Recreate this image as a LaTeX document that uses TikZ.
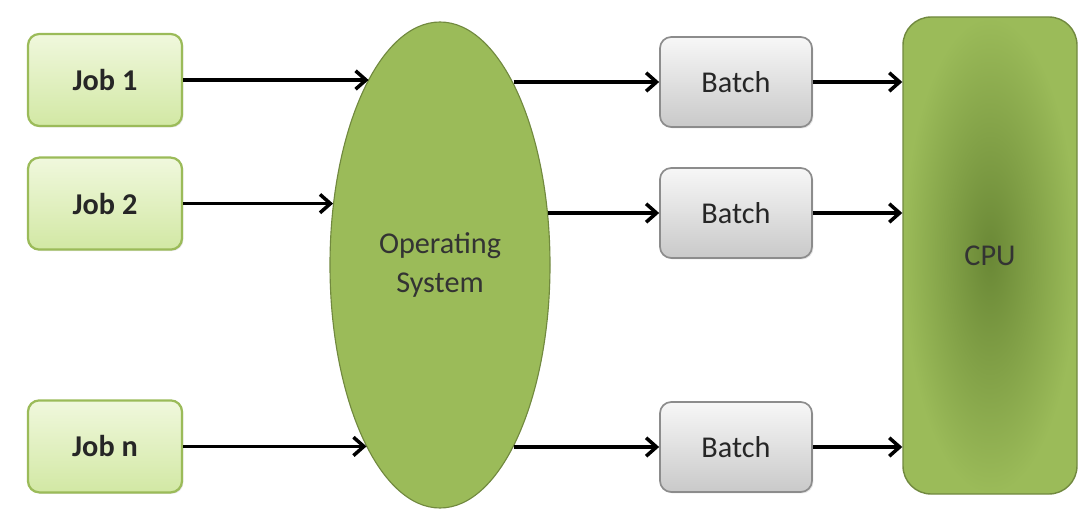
\documentclass[tikz,border=0pt]{standalone}
\usepackage{fontspec}
\setmainfont{Carlito}
\usetikzlibrary{arrows.meta,shapes.geometric,shadows}

\definecolor{jobtop}{HTML}{F0F8DD}
\definecolor{jobbot}{HTML}{D2E8A4}
\definecolor{jobline}{HTML}{9BBB59}
\definecolor{osfill}{HTML}{9BBB59}
\definecolor{osline}{HTML}{71893F}
\definecolor{battop}{HTML}{F7F7F7}
\definecolor{batbot}{HTML}{C9C9C9}
\definecolor{batline}{HTML}{8C8C8C}
\definecolor{cpudark}{HTML}{6A8836}

\tikzset{
  jobbox/.style={draw=jobline, line width=1.6pt, rounded corners=8pt,
    top color=jobtop, bottom color=jobbot, minimum width=3.85cm,
    minimum height=2.3cm, font=\fontsize{21.5}{28}\selectfont\bfseries,
    text=black!85,
    drop shadow={opacity=0.2, shadow xshift=1pt, shadow yshift=-1pt}},
  batchbox/.style={draw=batline, line width=1.2pt, rounded corners=8pt,
    top color=battop, bottom color=batbot, minimum width=3.8cm,
    minimum height=2.25cm, text=black!85,
    drop shadow={opacity=0.2, shadow xshift=1pt, shadow yshift=-1pt}},
  flow/.style={line width=2.5pt, -{Straight Barb[length=2.6mm, width=4.6mm, line width=2.5pt]}}
}

\begin{document}
\begin{tikzpicture}[font=\fontsize{21.5}{28}\selectfont]
    \useasboundingbox (0,0) rectangle (26.975,12.75);

    % jobs
    \node[jobbox] (job1) at (2.625,10.75) {Job 1};
    \node[jobbox] (job2) at (2.625,7.66) {Job 2};
    \node[jobbox] (jobn) at (2.625,1.59) {Job n};

    % operating system
    \node[ellipse, draw=osline, line width=0.8pt, fill=osfill,
      minimum width=5.5cm, minimum height=12.15cm, inner sep=0pt,
      align=center, text=black!80] (os) at (11.0,6.125) {Operating\\System};

    % batches
    \node[batchbox] (batch1) at (18.4,10.7) {Batch};
    \node[batchbox] (batch2) at (18.4,7.425) {Batch};
    \node[batchbox] (batch3) at (18.4,1.575) {Batch};

    % cpu
    \node[draw=osline, line width=1pt, rounded corners=20pt,
      inner color=cpudark, outer color=osfill,
      minimum width=4.35cm, minimum height=11.925cm,
      text=black!80] (cpu) at (24.75,6.3625) {CPU};

    \draw[flow] (job1.east) -- (job1.east -| os.111);
    \draw[flow] (job2.east) -- (job2.east -| os.150);
    \draw[flow] (jobn.east) -- (jobn.east -| os.248);

    \draw[flow] (batch1.west -| os.68) -- (batch1.west);
    \draw[flow] (batch2.west -| os.26) -- (batch2.west);
    \draw[flow] (batch3.west -| os.-68) -- (batch3.west);

    \draw[flow] (batch1.east) -- (batch1.east -| cpu.west);
    \draw[flow] (batch2.east) -- (batch2.east -| cpu.west);
    \draw[flow] (batch3.east) -- (batch3.east -| cpu.west);
\end{tikzpicture}
\end{document}
